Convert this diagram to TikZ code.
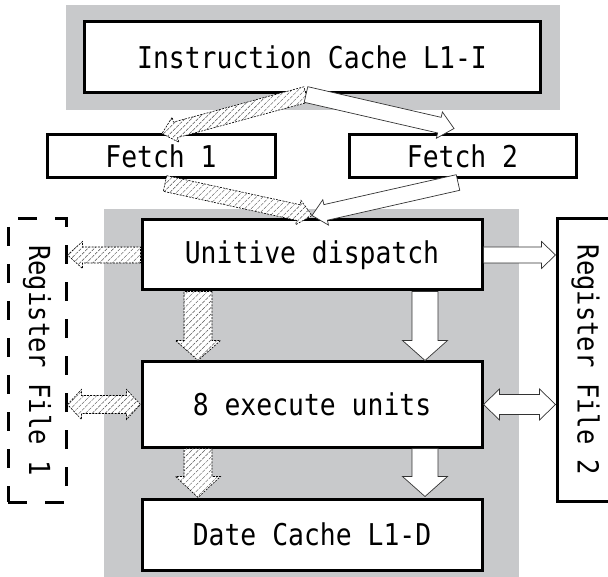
\documentclass[tikz,border=0pt]{standalone}
\usepackage{fontspec}
\usepackage{graphicx}
\usetikzlibrary{calc,patterns.meta}
\newfontfamily\lbl{DejaVu Sans Mono}[FakeStretch=0.88]
\definecolor{bggray}{RGB}{200,201,203}
\newcommand\fatarr[6]{%
  \coordinate (hb) at ($(#3)!#6!(#2)$);
  \path[#1] ($(#2)!#4!90:(#3)$) -- ($(hb)!#4!90:(#3)$) -- ($(hb)!#5!90:(#3)$) -- (#3)
    -- ($(hb)!#5!-90:(#3)$) -- ($(hb)!#4!-90:(#3)$) -- ($(#2)!#4!-90:(#3)$) -- cycle;
}
\newcommand\fatdbl[6]{%
  \coordinate (hba) at ($(#2)!#6!(#3)$);
  \coordinate (hbb) at ($(#3)!#6!(#2)$);
  \path[#1] (#2) -- ($(hba)!#5!90:(#3)$) -- ($(hba)!#4!90:(#3)$) -- ($(hbb)!#4!90:(#3)$)
    -- ($(hbb)!#5!90:(#3)$) -- (#3) -- ($(hbb)!#5!-90:(#3)$) -- ($(hbb)!#4!-90:(#3)$)
    -- ($(hba)!#4!-90:(#3)$) -- ($(hba)!#5!-90:(#3)$) -- cycle;
}
\begin{document}
\begin{tikzpicture}[x=1pt,y=-1pt,
  box/.style={draw=black, line width=3pt, fill=white, inner sep=0pt,
    font=\lbl\fontsize{30}{36}\selectfont},
  rbox/.style={box, font=\lbl\fontsize{29}{34}\selectfont},
  dashbox/.style={rbox, fill=none, dash pattern=on 19pt off 18pt},
  hatch/.style={preaction={fill=white},
    pattern={Lines[angle=45,distance=4.6pt,line width=0.45pt]}, pattern color=black!70,
    draw=black, line width=0.6pt, dash pattern=on 2pt off 1.2pt},
  warr/.style={fill=white, draw=black!80, line width=0.7pt},
  bg/.style={fill=bggray, draw=none}]
\useasboundingbox (0,0) rectangle (608,577);
% backgrounds
\path[bg] (66,5) rectangle (560,110);
\path[bg] (104,209) rectangle (519,577);
% boxes
\node[box, minimum width=456pt, minimum height=71pt] (ic) at (312,57.5) {Instruction Cache L1-I};
\node[box, minimum width=228pt, minimum height=43pt] (f1) at (161,156.5) {Fetch 1};
\node[box, minimum width=227pt, minimum height=43pt] (f2) at (462.5,156.5) {Fetch 2};
\node[box, minimum width=340pt, minimum height=70pt] (ud) at (312,255) {Unitive dispatch};
\node[box, minimum width=340pt, minimum height=85pt] (eu) at (312,404.5) {8 execute units};
\node[box, minimum width=340pt, minimum height=71pt] (dc) at (312,534.5) {Date Cache L1-D};
\node[dashbox, minimum width=58pt, minimum height=283pt] (rf1) at (37,360.5) {\rotatebox{-90}{Register File 1}};
\node[rbox, minimum width=57pt, minimum height=282pt] (rf2) at (585.5,360) {\rotatebox{-90}{Register File 2}};
% connector end points
\coordinate (t1) at ($(ic.south)+(-6,0)$);
\coordinate (h1) at ($(f1.north)+(1,0)$);
\coordinate (h2) at ($(f2.north)+(-8.5,-5)$);
\coordinate (t3) at ($(f1.south)+(4,4)$);
\coordinate (t4) at ($(f2.south)+(-4.5,3)$);
\coordinate (h3) at ($(ud.north)+(0,-3)$);
\coordinate (rl1) at (rf1.east |- ud.west);
\coordinate (rr1) at (rf2.west |- ud.east);
\coordinate (rl2) at (rf1.east |- eu.west);
\coordinate (rr2) at (rf2.west |- eu.east);
\coordinate (d1) at ($(ud.south)+(-114,0)$);
\coordinate (d2) at ($(eu.north)+(-114,0)$);
\coordinate (d3) at ($(ud.south)+(113,0)$);
\coordinate (d4) at ($(eu.north)+(113,0)$);
\coordinate (e1) at ($(eu.south)+(-114,0)$);
\coordinate (e2) at ($(dc.north)+(-114,0)$);
\coordinate (e3) at ($(eu.south)+(113,0)$);
\coordinate (e4) at ($(dc.north)+(113,-1)$);
% arrows
\fatarr{hatch}{t1}{h1}{8pt}{13pt}{14pt}
\fatarr{warr}{t1}{h2}{8pt}{13.5pt}{15pt}
\fatarr{hatch}{t3}{h3}{8pt}{12.5pt}{14pt}
\fatarr{warr}{t4}{h3}{8pt}{13pt}{14pt}
\fatarr{hatch}{ud.west}{rl1}{8pt}{13.5pt}{15pt}
\fatarr{warr}{ud.east}{rr1}{8pt}{13.5pt}{14pt}
\fatarr{hatch}{d1}{d2}{14pt}{22.5pt}{20pt}
\fatarr{warr}{d3}{d4}{13pt}{22.5pt}{20pt}
\fatdbl{hatch}{rl2}{eu.west}{9pt}{15pt}{14pt}
\fatdbl{warr}{eu.east}{rr2}{10pt}{15.5pt}{16pt}
\fatarr{hatch}{e1}{e2}{14pt}{22.5pt}{21pt}
\fatarr{warr}{e3}{e4}{13pt}{22.5pt}{20pt}
\end{tikzpicture}
\end{document}
